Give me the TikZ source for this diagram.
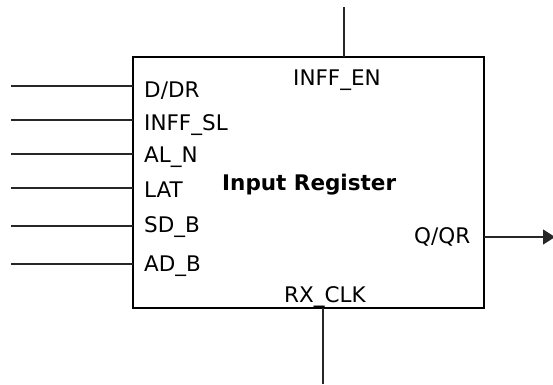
\documentclass[tikz,border=0pt]{standalone}
\usepackage{fontspec}
\setmainfont{DejaVu Sans}
\usepackage{tikz}
\tikzset{every picture/.style={font issue=\fontsize{21.5}{25}},
         font issue/.style={execute at begin picture={#1\selectfont}}
        }
\usetikzlibrary{arrows.meta}
\usetikzlibrary{positioning}
\tikzstyle{block}=[draw,rectangle,line width=2.2pt,inner sep=0,outer sep=0,minimum width=351,minimum height=251]
\tikzstyle{pin}=[anchor=base west,inner sep=0,text=black]
\tikzstyle{wire}=[draw,line width=1.3pt,black!85]
\tikzstyle{outwire}=[draw,line width=1.3pt,black!85,-{Triangle[length=12pt,width=15pt]}]

\begin{document}
\begin{tikzpicture}[x=1pt,y=-1pt]
	\useasboundingbox (0,0) rectangle (553,384);

	\node[block] (reg) at (308.5,182.5) {};
	\node[pin,font=\bfseries] (title) at (222,190) {Input Register};

	\node[pin] (ddr) at (144,97)  {D/DR};
	\node[pin] (isl) at (144,130) {INFF\_SL};
	\node[pin] (aln) at (144,162) {AL\_N};
	\node[pin] (lat) at (144,197) {LAT};
	\node[pin] (sdb) at (144,232) {SD\_B};
	\node[pin] (adb) at (144,271) {AD\_B};
	\node[pin] (ien) at (293,85)  {INFF\_EN};
	\node[pin] (qqr) at (414,243) {Q/QR};
	\node[pin] (clk) at (284,302) {RX\_CLK};

	\coordinate (ddrin) at (11,86);
	\coordinate (islin) at (11,120);
	\coordinate (alnin) at (11,154);
	\coordinate (latin) at (11,188);
	\coordinate (sdbin) at (11,226);
	\coordinate (adbin) at (11,264);
	\coordinate (ienin) at (344,7);
	\coordinate (clkin) at (323,384);
	\coordinate (qqrout) at (555,237);

	% % % inputs
	\path[wire] (ddrin) -- (ddrin -| reg.west);
	\path[wire] (islin) -- (islin -| reg.west);
	\path[wire] (alnin) -- (alnin -| reg.west);
	\path[wire] (latin) -- (latin -| reg.west);
	\path[wire] (sdbin) -- (sdbin -| reg.west);
	\path[wire] (adbin) -- (adbin -| reg.west);

	\path[wire] (ienin) -- (ienin |- reg.north);
	\path[wire] (clkin) -- (clkin |- reg.south);

	% % % output
	\path[outwire] (qqrout -| reg.east) -- (qqrout);
\end{tikzpicture}
\end{document}
